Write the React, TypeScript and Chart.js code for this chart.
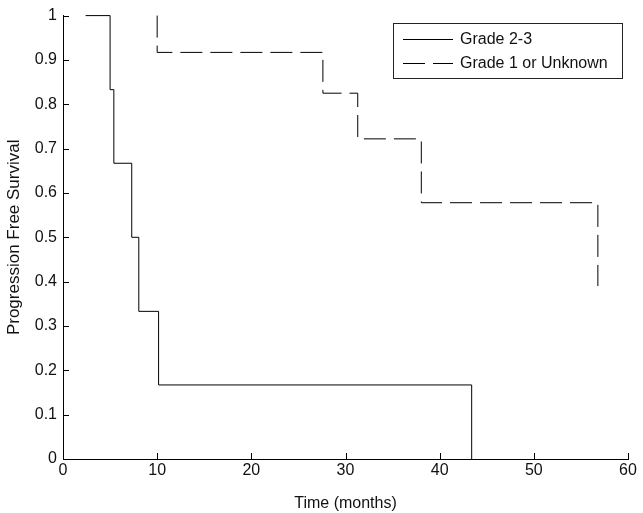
import React, { useEffect, useRef } from 'react';
import { Chart, registerables } from 'chart.js';

Chart.register(...registerables);

// Kaplan-Meier step data (time in months, progression free survival)
const grade23Times = [2.4, 5.0, 5.4, 7.3, 8.05, 10.15, 43.4];
const grade23Surv = [1, 0.833, 0.667, 0.5, 0.333, 0.167, 0];
const grade1Times = [10, 10, 27.6, 31.3, 38.05, 56.8];
const grade1Surv = [1, 0.917, 0.825, 0.722, 0.578, 0.39];
const seriesLabels = ['Grade 2-3', 'Grade 1 or Unknown'];
const xTickValues = [0, 10, 20, 30, 40, 50, 60];
const yTickValues = [0, 0.1, 0.2, 0.3, 0.4, 0.5, 0.6, 0.7, 0.8, 0.9, 1];
const xTitle = 'Time (months)';
const yTitle = 'Progression Free Survival';

const FONT = '"Liberation Sans", Arial, sans-serif';
const DASH = [22, 8];

const inwardTicks = {
  id: 'inwardTicks',
  afterDraw(chart: any) {
    const ctx = chart.ctx;
    const { left, bottom } = chart.chartArea;
    const xs = chart.scales.x;
    const ys = chart.scales.y;
    ctx.save();
    ctx.strokeStyle = '#000';
    ctx.lineWidth = 1;
    ctx.beginPath();
    xTickValues.forEach((v) => {
      const px = Math.round(xs.getPixelForValue(v)) + 0.5;
      ctx.moveTo(px, bottom);
      ctx.lineTo(px, bottom - 6);
    });
    yTickValues.forEach((v) => {
      const py = Math.round(ys.getPixelForValue(v)) + 0.5;
      ctx.moveTo(left, py);
      ctx.lineTo(left + 6, py);
    });
    ctx.stroke();
    ctx.restore();
  },
};

const boxLegend = {
  id: 'boxLegend',
  afterDraw(chart: any) {
    const ctx = chart.ctx;
    ctx.save();
    ctx.fillStyle = '#fff';
    ctx.fillRect(393, 23, 229, 55);
    ctx.strokeStyle = '#222';
    ctx.lineWidth = 1;
    ctx.strokeRect(393.5, 23.5, 229, 55);
    ctx.font = `16px ${FONT}`;
    ctx.textBaseline = 'middle';
    ctx.textAlign = 'left';
    chart.data.datasets.forEach((ds: any, i: number) => {
      const y = 39.5 + i * 24;
      ctx.beginPath();
      ctx.setLineDash(ds.borderDash || []);
      ctx.strokeStyle = '#000';
      ctx.moveTo(403, y);
      ctx.lineTo(453, y);
      ctx.stroke();
      ctx.setLineDash([]);
      ctx.fillStyle = '#111';
      ctx.fillText(ds.label, 460, y);
    });
    ctx.restore();
  },
};

export default function App() {
  const ref = useRef<HTMLCanvasElement | null>(null);
  useEffect(() => {
    document.body.style.margin = '0';
    const canvas = ref.current;
    if (!canvas) return;
    const chart = new Chart(canvas, {
      type: 'line',
      data: {
        datasets: [
          {
            label: seriesLabels[0],
            data: grade23Times.map((t, i) => ({ x: t, y: grade23Surv[i] })),
            borderColor: '#000',
            borderWidth: 1,
            stepped: 'before',
            pointRadius: 0,
            fill: false,
            clip: false as any,
          },
          {
            label: seriesLabels[1],
            data: grade1Times.map((t, i) => ({ x: t, y: grade1Surv[i] })),
            borderColor: '#000',
            borderWidth: 1,
            borderDash: DASH,
            stepped: 'before',
            pointRadius: 0,
            fill: false,
            clip: false as any,
          },
        ],
      },
      options: {
        animation: false,
        responsive: false,
        devicePixelRatio: 1,
        layout: { padding: { top: 14, right: 15, left: 0, bottom: 0 } },
        plugins: { legend: { display: false }, tooltip: { enabled: false } },
        scales: {
          x: {
            type: 'linear',
            min: 0,
            max: 60,
            afterFit: (s: any) => { s.height = 54; },
            afterBuildTicks: (s: any) => { s.ticks = xTickValues.map((v) => ({ value: v })); },
            grid: { display: false, drawTicks: false },
            border: { display: true, color: '#000', width: 1 },
            ticks: { color: '#111', padding: 2, maxRotation: 0, font: { family: FONT, size: 16 }, callback: (v: any) => String(v) },
            title: { display: true, text: xTitle, color: '#111', padding: { top: 7, bottom: 0 }, font: { family: FONT, size: 16 } },
          },
          y: {
            type: 'linear',
            min: 0,
            max: 1,
            afterFit: (s: any) => { s.width = 63; },
            afterBuildTicks: (s: any) => { s.ticks = yTickValues.map((v) => ({ value: v })); },
            grid: { display: false, drawTicks: false },
            border: { display: true, color: '#000', width: 1 },
            ticks: { color: '#111', padding: 6, font: { family: FONT, size: 16 }, callback: (v: any) => String(Math.round(v * 10) / 10) },
            title: { display: true, text: yTitle, color: '#111', padding: { top: 4, bottom: 0 }, font: { family: FONT, size: 17 } },
          },
        },
      },
      plugins: [inwardTicks, boxLegend],
    });
    return () => chart.destroy();
  }, []);
  return (
    <div style={{ width: 643, height: 513, background: '#fff' }}>
      <canvas ref={ref} width={643} height={513} style={{ width: 643, height: 513, display: 'block' }} />
    </div>
  );
}
